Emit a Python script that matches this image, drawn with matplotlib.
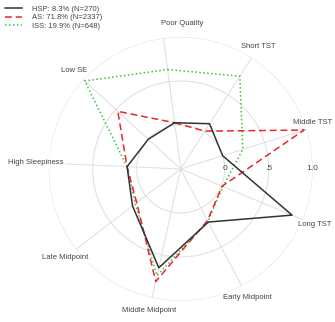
import matplotlib
matplotlib.use("Agg")
import matplotlib.pyplot as plt
import numpy as np

plt.rcParams['font.family'] = ['Liberation Sans', 'DejaVu Sans']

# categories, clockwise from the top
categories = ['Poor Quality', 'Short TST', 'Middle TST', 'Long TST', 'Early Midpoint',
              'Middle Midpoint', 'Late Midpoint', 'High Sleepiness', 'Low SE']

# profile values per class
hsp = [0.03, 0.11, 0.00, 0.87, 0.18, 0.65, 0.19, 0.11, 0.00]
as_ = [0.03, 0.01, 0.97, 0.01, 0.16, 0.81, 0.13, 0.11, 0.47]
iss = [0.64, 0.75, 0.24, 0.02, 0.17, 0.74, 0.15, 0.11, 0.98]

series_labels = ['HSP: 8.3% (N=270)', 'AS: 71.8% (N=2337)', 'ISS: 19.9% (N=648)']
grid_levels = [0, 0.5, 1.0]
grid_text = ['0', '.5', '1.0']

fig = plt.figure(figsize=(3.35, 3.22), dpi=100)
ax = fig.add_axes([0.1454, 0.0652, 0.788, 0.820], projection='polar')
ax.set_theta_offset(np.deg2rad(97.5))
ax.set_theta_direction(-1)
ax.set_ylim(-0.5, 1.0)
ax.axis('off')

n = len(categories)
theta = np.arange(n) * 2 * np.pi / n
tt = np.linspace(0, 2 * np.pi, 300)

gridc = '#dedede'
for lv in grid_levels:
    ax.plot(tt, np.full_like(tt, lv), color=gridc, lw=0.7, zorder=1)
for th in theta:
    ax.plot([th, th], [-0.5, 1.0], color=gridc, lw=0.7, zorder=1)

def closed(v):
    return np.append(theta, theta[0]), np.append(v, v[0])

t, r = closed(hsp)
l1, = ax.plot(t, r, color='#333333', lw=1.1, zorder=4)
t, r = closed(as_)
l2, = ax.plot(t, r, color='#e8262e', lw=1.1, ls=(0, (4.5, 2.5)), zorder=3)
t, r = closed(iss)
l3, = ax.plot(t, r, color='#3fc23f', lw=1.1, ls=(0, (1, 1.6)), zorder=2)

# radial scale labels along the right-hand horizontal
right = np.deg2rad(97.5)
for lv, s in zip(grid_levels, grid_text):
    ax.text(right, lv, s, fontsize=6, color='#444444', ha='center', va='center', zorder=5)

# category labels just outside the outer ring
label_theta = theta.copy()
label_theta[0] = np.deg2rad(8)
label_theta[2] = np.deg2rad(78)
label_r = np.full(n, 1.15)
label_r[2] = 1.09
for th, lr, name in zip(label_theta, label_r, categories):
    ax.text(th, lr, name, fontsize=5.5, color='#444444', ha='center', va='center',
            clip_on=False, zorder=6,
            bbox=dict(facecolor='white', edgecolor='none', pad=1.0))

fig.legend([l1, l2, l3], series_labels, loc='upper left', bbox_to_anchor=(0.0, 1.0),
           frameon=False, fontsize=5.5, handlelength=2.2, handletextpad=1.3,
           labelspacing=0.15, borderpad=0.4, borderaxespad=0.3, labelcolor='#444444')

fig.savefig('out.png', dpi=100, facecolor='white')
